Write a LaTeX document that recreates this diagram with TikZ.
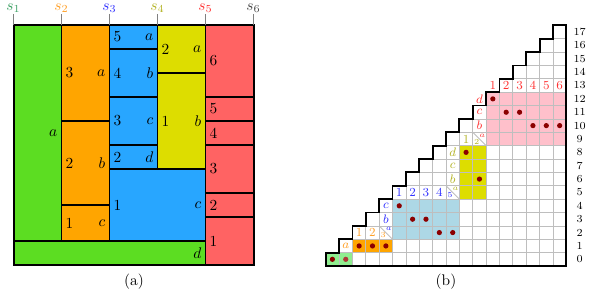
\documentclass[tikz,border=0pt]{standalone}
\definecolor{gA}{RGB}{92,221,34}
\definecolor{oA}{RGB}{255,165,0}
\definecolor{bA}{RGB}{40,166,255}
\definecolor{yA}{RGB}{221,221,0}
\definecolor{rA}{RGB}{255,99,99}
\definecolor{gB}{RGB}{144,238,144}
\definecolor{bB}{RGB}{173,216,230}
\definecolor{pB}{RGB}{255,192,203}
\definecolor{dotc}{RGB}{139,0,0}
\definecolor{dotl}{RGB}{175,55,55}
\definecolor{tO}{RGB}{255,160,40}
\definecolor{tB}{RGB}{50,50,255}
\definecolor{tY}{RGB}{180,180,40}
\definecolor{tR}{RGB}{255,50,50}
\definecolor{tG}{RGB}{60,160,100}
\definecolor{tD}{RGB}{70,70,70}
\definecolor{gridc}{RGB}{190,190,190}
\newcommand\lrect[7]{%
  \draw[blk,fill=#1] (#2,#3) rectangle (#4,#5);
  \node[numl] at (#2,{(#3+#5)/2}) {#6};
  \node[letl] at (#4,{(#3+#5)/2}) {$#7$};}
\begin{document}
\begin{tikzpicture}[x=0.65pt,y=-0.65pt,
  blk/.style={draw=black,line width=0.8pt},
  numl/.style={anchor=west,inner sep=2.5pt},
  letl/.style={anchor=east,inner sep=2.5pt},
  tick/.style={draw=gray,line width=0.4pt},
  gridl/.style={draw=gridc,line width=0.5pt},
  stair/.style={draw=black,line width=1.2pt},
  cl/.style={font=\footnotesize,inner sep=0pt},
  sm/.style={font=\tiny,inner sep=0pt},
  dot/.style={fill=dotc,draw=none},
  rowl/.style={font=\scriptsize,inner sep=0pt}]
\useasboundingbox (0,0) rectangle (590,291);
% ---------- (a) ----------
\lrect{gA}{13.5}{25}{61.5}{241}{}{a}
\lrect{gA}{13.5}{241}{205.5}{265}{}{d}
\lrect{oA}{61.5}{25}{109.5}{121}{3}{a}
\lrect{oA}{61.5}{121}{109.5}{205}{2}{b}
\lrect{oA}{61.5}{205}{109.5}{241}{1}{c}
\lrect{bA}{109.5}{25}{157.5}{49}{5}{a}
\lrect{bA}{109.5}{49}{157.5}{97}{4}{b}
\lrect{bA}{109.5}{97}{157.5}{145}{3}{c}
\lrect{bA}{109.5}{145}{157.5}{169}{2}{d}
\lrect{bA}{109.5}{169}{205.5}{241}{1}{c}
\lrect{yA}{157.5}{25}{205.5}{73}{2}{a}
\lrect{yA}{157.5}{73}{205.5}{169}{1}{b}
\lrect{rA}{205.5}{25}{253.5}{97}{6}{}
\lrect{rA}{205.5}{97}{253.5}{121}{5}{}
\lrect{rA}{205.5}{121}{253.5}{145}{4}{}
\lrect{rA}{205.5}{145}{253.5}{193}{3}{}
\lrect{rA}{205.5}{193}{253.5}{217}{2}{}
\lrect{rA}{205.5}{217}{253.5}{265}{1}{}
\draw[line width=1.3pt] (13.5,25) rectangle (253.5,265);
\foreach \i/\c in {1/tG,2/tO,3/tB,4/tY,5/tR,6/tD}{
  \draw[tick] ({13.5+48*(\i-1)},14) -- ({13.5+48*(\i-1)},25);
  \node[anchor=base,inner sep=0pt,text=\c] (s\i) at ({13.5+48*(\i-1)},10.5) {$s_{\i}$};
}
\node (capa) at (134,282) {(a)};
% ---------- (b) ----------
\begin{scope}[shift={(325.7,266)},x=8.69pt,y=8.69pt]
  \fill[gB] (0,0) rectangle (2,1);
  \fill[oA] (2,1) rectangle (5,2);
  \fill[bB] (5,2) rectangle (10,5);
  \fill[yA] (10,5) rectangle (12,9);
  \fill[pB] (12,9) rectangle (18,13);
  \foreach \r in {0,...,17}{
    \foreach \c in {\r,...,17}{
      \draw[gridl] (\c,\r) rectangle ++(1,1);
    }
  }
  % diagonal cells
  \draw[gridl] (4,3) -- (5,2);
  \draw[gridl] (9,6) -- (10,5);
  \draw[gridl] (11,10) -- (12,9);
  \node[sm,text=tO] at (4.3,2.3) {3};
  \node[sm,text=tB] at (4.72,2.75) {$a$};
  \node[sm,text=tB] at (9.3,5.3) {5};
  \node[sm,text=tY] at (9.72,5.75) {$a$};
  \node[sm,text=tY] at (11.3,9.3) {2};
  \node[sm,text=tR] at (11.72,9.75) {$a$};
  % staircase
  \draw[stair] (0,0) \foreach \i in {1,...,18}{ -- ({\i-1},\i) -- (\i,\i)} -- (18,0) -- cycle;
  % labels orange
  \node[cl,text=tO] at (1.5,1.5) {$a$};
  \node[cl,text=tO] at (2.5,2.5) {1};
  \node[cl,text=tO] at (3.5,2.5) {2};
  % blue
  \node[cl,text=tB] at (4.5,3.5) {$b$};
  \node[cl,text=tB] at (4.5,4.5) {$c$};
  \foreach \k in {1,...,4}{\node[cl,text=tB] at ({4.5+\k},5.5) {\k};}
  % yellow
  \node[cl,text=tY] at (9.5,6.5) {$b$};
  \node[cl,text=tY] at (9.5,7.5) {$c$};
  \node[cl,text=tY] at (9.5,8.5) {$d$};
  \node[cl,text=tY] at (10.5,9.5) {1};
  % red
  \node[cl,text=tR] at (11.5,10.5) {$b$};
  \node[cl,text=tR] at (11.5,11.5) {$c$};
  \node[cl,text=tR] at (11.5,12.5) {$d$};
  \foreach \k in {1,...,6}{\node[cl,text=tR] at ({11.5+\k},13.5) {\k};}
  % dots
  \foreach \p in {(0.5,0.5),(2.5,1.5),(3.5,1.5),(4.5,1.5),(5.5,4.5),(6.5,3.5),(7.5,3.5),(8.5,2.5),(9.5,2.5),(10.5,8.5),(11.5,6.5),(12.5,12.5),(13.5,11.5),(14.5,11.5),(15.5,10.5),(16.5,10.5),(17.5,10.5)}{
    \fill[dot] \p circle (1.7pt);
  }
  \fill[fill=dotl] (1.5,0.5) circle (1.7pt);
  \foreach \r in {0,...,17}{\node[rowl] (r\r) at (19,{\r+0.5}) {\r};}
\end{scope}
\node (capb) at (446,282) {(b)};
\end{tikzpicture}
\end{document}
